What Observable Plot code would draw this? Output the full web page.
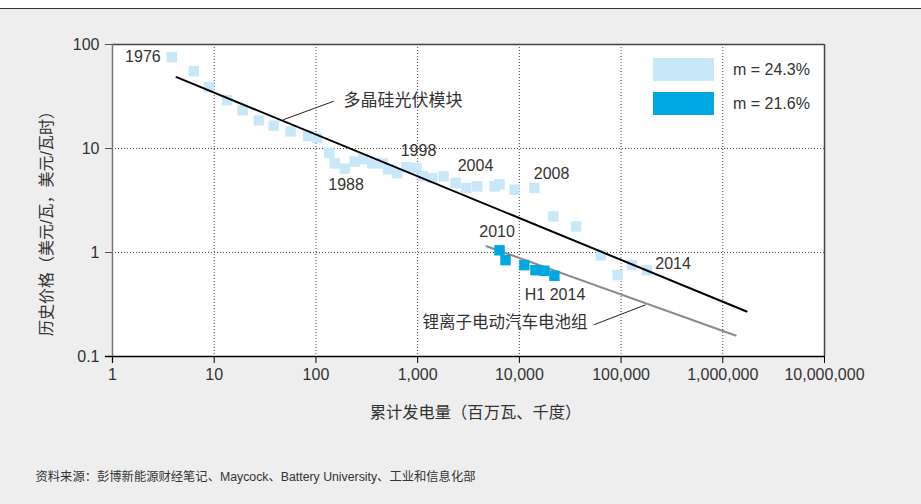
<!DOCTYPE html>
<html>
<head>
<meta charset="utf-8">
<script src="https://cdn.jsdelivr.net/npm/d3@7"></script>
<script src="https://cdn.jsdelivr.net/npm/@observablehq/plot@0.6"></script>
<style>
  html, body { margin: 0; padding: 0; background: #eeeeee; }
  #wrap { position: relative; width: 921px; height: 504px; overflow: hidden;
          font-family: "Liberation Sans", "Noto Sans CJK SC", sans-serif; color: #333; }
  #topbar { position: absolute; left: 0; top: 0; width: 921px; height: 8px; background: #fff; border-bottom: 1.5px solid #333; }
  .sw { position: absolute; width: 61px; height: 23px; }
  .lt { position: absolute; font-size: 16px; line-height: 23px; color: #333; }
</style>
</head>
<body>
<div id="wrap"></div>
<script>
// Polysilicon PV module price (light blue) — cumulative MW vs $/W
const pvCumulative = [3.83, 6.3, 8.9, 13.4, 19.0, 27.5, 38.4, 56.4, 83.9, 102.8, 135, 153, 192, 241, 291, 359, 451, 512, 631, 774, 971, 1128, 1393, 1800, 2360, 3006, 3855, 5700, 6380, 8950, 14060, 21600, 36100, 63500, 92500, 128000, 179600];
const pvPrice      = [75.6, 55.4, 38.9, 29.1, 23.3, 18.6, 16.6, 14.6, 13.2, 12.6, 9.1, 7.2, 6.4, 7.5, 7.9, 7.2, 7.2, 6.3, 5.8, 6.6, 6.5, 5.4, 5.2, 5.4, 4.66, 4.17, 4.32, 4.32, 4.52, 4.02, 4.17, 2.22, 1.78, 0.94, 0.606, 0.757, 0.676];

// Li-ion EV battery pack price (dark blue) — cumulative MWh vs $/Wh
const evCumulative = [6380, 7310, 11200, 14400, 17600, 22100];
const evPrice      = [1.05, 0.845, 0.756, 0.676, 0.667, 0.597];

// Learning-curve fit lines (endpoints)
const pvFitX = [4.26, 1714000];
const pvFitY = [48.5, 0.271];
const evFitX = [4755, 1336000];
const evFitY = [1.15, 0.159];

// Year annotations (data coordinates)
const yearText = ["1976", "1988", "1998", "2004", "2008", "2010", "H1 2014", "2014"];
const yearX    = [1.99, 197.7, 1020, 3707, 20730, 6040, 22430, 324600];
const yearY    = [76.7, 4.51, 9.57, 6.87, 5.75, 1.59, 0.394, 0.783];

// Series callouts
const pvCalloutText = "多晶硅光伏模块";
const pvCalloutX = 186.8, pvCalloutY = 28.9;
const evCalloutText = "锂离子电动汽车电池组";
const evCalloutX = 46850, evCalloutY = 0.2124;
const leaderX1 = [150, 54040];
const leaderY1 = [28.5, 0.2018];
const leaderX2 = [47.7, 174100];
const leaderY2 = [18.9, 0.314];

// Axes
const xTicks = [1, 10, 100, 1000, 10000, 100000, 1000000, 10000000];
const yTicks = [0.1, 1, 10, 100];
const xGrid = [10, 100, 1000, 10000, 100000, 1000000];
const yGrid = [1, 10];

const xTitle = "累计发电量（百万瓦、千度）";
const yTitle = "历史价格（美元/瓦，美元/瓦时）";
const caption = "资料来源：彭博新能源财经笔记、Maycock、Battery University、工业和信息化部";
const legendLabels = ["m = 24.3%", "m = 21.6%"];
const colors = ["#c8e7f9", "#00a8e2"];

const pv = pvCumulative.map((x, i) => ({x, y: pvPrice[i]}));
const ev = evCumulative.map((x, i) => ({x, y: evPrice[i]}));
const pvFit = pvFitX.map((x, i) => ({x, y: pvFitY[i]}));
const evFit = evFitX.map((x, i) => ({x, y: evFitY[i]}));
const years = yearText.map((t, i) => ({t, x: yearX[i], y: yearY[i]}));
const leaders = leaderX1.map((x1, i) => ({x1, y1: leaderY1[i], x2: leaderX2[i], y2: leaderY2[i]}));

const font = "'Liberation Sans', 'Noto Sans CJK SC', sans-serif";

const chart = Plot.plot({
  width: 921,
  height: 504,
  marginLeft: 112,
  marginRight: 97,
  marginTop: 44,
  marginBottom: 148,
  style: {background: "#eeeeee", fontSize: "16px", fontFamily: font, color: "#333"},
  x: {type: "log", domain: [1, 1e7]},
  y: {type: "log", domain: [0.1, 100]},
  marks: [
    Plot.frame({fill: "white", stroke: null}),
    Plot.gridX(xGrid, {stroke: "#444", strokeOpacity: 1, strokeDasharray: "1,2"}),
    Plot.gridY(yGrid, {stroke: "#444", strokeOpacity: 1, strokeDasharray: "1,2"}),
    Plot.ruleY([100], {stroke: "#444", strokeWidth: 1.5}),
    Plot.ruleX([1e7], {stroke: "#444", strokeWidth: 1.5}),
    Plot.ruleX([1], {stroke: "#777", strokeWidth: 1.5, insetBottom: -7}),
    Plot.axisY(yTicks, {tickSize: 7, tickPadding: 6, tickFormat: d => String(d), stroke: "#555", label: null, fill: "#333"}),
    Plot.axisX(xTicks, {tickSize: 7, tickPadding: 5, tickFormat: d3.format(","), stroke: "#000", label: null, fill: "#333"}),
    Plot.ruleY([0.1], {stroke: "#000", strokeWidth: 1.5, insetLeft: -7}),
    Plot.dot(pv, {x: "x", y: "y", symbol: "square", r: 5.9, fill: colors[0], stroke: null}),
    Plot.line(pvFit, {x: "x", y: "y", stroke: "#000", strokeWidth: 2}),
    Plot.line(evFit, {x: "x", y: "y", stroke: "#8c8c8c", strokeWidth: 2}),
    Plot.dot(ev, {x: "x", y: "y", symbol: "square", r: 5.9, fill: colors[1], stroke: null}),
    Plot.link(leaders, {x1: "x1", y1: "y1", x2: "x2", y2: "y2", stroke: "#222", strokeWidth: 1}),
    Plot.text(years, {x: "x", y: "y", text: "t", fill: "#333", fontSize: 16}),
    Plot.text([pvCalloutText], {x: () => pvCalloutX, y: () => pvCalloutY, text: d => d, textAnchor: "start", fill: "#333", fontSize: 17}),
    Plot.text([evCalloutText], {x: () => evCalloutX, y: () => evCalloutY, text: d => d, textAnchor: "end", fill: "#333", fontSize: 16.5}),
    Plot.text([xTitle], {frameAnchor: "bottom", dx: 7, dy: 61, fill: "#333", fontSize: 16.3}),
    Plot.text([yTitle], {frameAnchor: "left", textAnchor: "middle", dx: -66, dy: 19, rotate: -90, fill: "#333", fontSize: 16}),
    Plot.text([caption], {frameAnchor: "bottom-left", textAnchor: "start", dx: -77, dy: 124, fill: "#333", fontSize: 12.3})
  ]
});

const wrap = document.getElementById("wrap");
wrap.appendChild(chart);
const bar = document.createElement("div");
bar.id = "topbar";
wrap.appendChild(bar);

// Legend overlay
const legendTop = [58, 92];
legendLabels.forEach((lab, i) => {
  const sw = document.createElement("div");
  sw.className = "sw";
  sw.style.left = "653px";
  sw.style.top = legendTop[i] + "px";
  sw.style.background = colors[i];
  wrap.appendChild(sw);
  const t = document.createElement("div");
  t.className = "lt";
  t.style.left = "733px";
  t.style.top = legendTop[i] + "px";
  t.textContent = lab;
  wrap.appendChild(t);
});
</script>
</body>
</html>
